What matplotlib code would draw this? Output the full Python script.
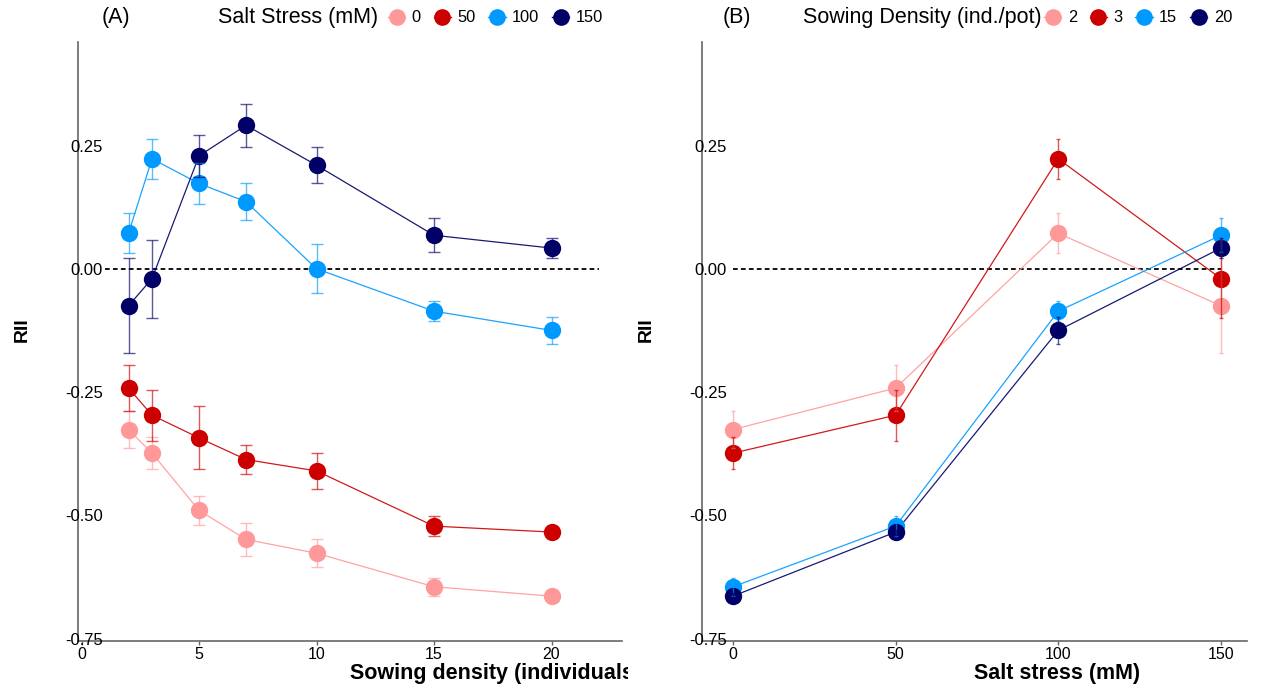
import matplotlib
matplotlib.use("Agg")
import matplotlib.pyplot as plt
from matplotlib.lines import Line2D
from matplotlib.transforms import Bbox, TransformedBbox

plt.rcParams["font.family"] = ["Liberation Sans", "DejaVu Sans"]

# sowing densities (ind./pot) and salt levels (mM)
density = [2, 3, 5, 7, 10, 15, 20]
salt = [0, 50, 100, 150]

# mean RII and SE for each salt level along the density gradient
rii_0 = [-0.326, -0.374, -0.490, -0.549, -0.577, -0.645, -0.664]
se_0 = [0.037, 0.032, 0.029, 0.033, 0.028, 0.018, 0.006]
rii_50 = [-0.242, -0.297, -0.343, -0.387, -0.410, -0.522, -0.534]
se_50 = [0.047, 0.052, 0.064, 0.030, 0.036, 0.020, 0.005]
rii_100 = [0.072, 0.223, 0.173, 0.136, 0.000, -0.086, -0.125]
se_100 = [0.041, 0.040, 0.041, 0.037, 0.050, 0.020, 0.028]
rii_150 = [-0.075, -0.020, 0.229, 0.291, 0.210, 0.068, 0.042]
se_150 = [0.096, 0.079, 0.042, 0.043, 0.037, 0.034, 0.020]

# densities shown in panel B
density_b = [2, 3, 15, 20]

colors = ["#FF9999", "#CC0000", "#0099FF", "#000066"]
y_ticks = [-0.75, -0.50, -0.25, 0.00, 0.25]

rii = [rii_0, rii_50, rii_100, rii_150]
se = [se_0, se_50, se_100, se_150]

W, H = 1261, 688
fig = plt.figure(figsize=(W / 100, H / 100), dpi=100)
ax_a = fig.add_axes([78 / W, 47 / H, 544 / W, 599 / H])
ax_b = fig.add_axes([702 / W, 47 / H, 545 / W, 599 / H])


def draw_series(ax, x, y, err, c, capsize):
    ax.plot(x, y, color=c, lw=0.9, alpha=0.9, zorder=2)
    ax.plot(x, y, "o", color=c, ms=12.5, mec="none", zorder=3)
    ax.errorbar(x, y, yerr=err, fmt="none", ecolor=c, elinewidth=1.0,
                capsize=capsize, capthick=1.0, alpha=0.65, zorder=4)


# panel A: RII against sowing density, one line per salt level
for i, c in enumerate(colors):
    draw_series(ax_a, density, rii[i], se[i], c, 4.3)

# panel B: same data, RII against salt for selected densities
for j, d in enumerate(density_b):
    k = density.index(d)
    y = [rii[i][k] for i in range(len(salt))]
    e = [se[i][k] for i in range(len(salt))]
    draw_series(ax_b, salt, y, e, colors[j], 1.5)

ax_a.hlines(0, 1, 22, colors="black", lw=1.3, linestyles=(0, (2.6, 1.8)), zorder=1)
ax_b.hlines(0, 0, 150, colors="black", lw=1.3, linestyles=(0, (2.6, 1.8)), zorder=1)

ax_a.set_xlim(-0.15, 23.0)
ax_a.set_xticks([0, 5, 10, 15, 20])
ax_b.set_xlim(-9.5, 158)
ax_b.set_xticks([0, 50, 100, 150])

for ax in (ax_a, ax_b):
    ax.set_ylim(-0.755, 0.46)
    ax.set_yticks(y_ticks)
    ax.set_yticklabels([f"{t:.2f}" for t in y_ticks])
    for s in ("top", "right"):
        ax.spines[s].set_visible(False)
    for s in ("left", "bottom"):
        ax.spines[s].set_color("#666666")
        ax.spines[s].set_linewidth(1.2)
        ax.spines[s].set_zorder(0)
    ax.tick_params(axis="y", length=0, pad=-18, labelsize=12)
    ax.tick_params(axis="x", length=3, width=1, color="#666666", pad=1, labelsize=11.5)
    ax.text(-0.102, 0.52, "RII", rotation=90, fontsize=14, fontweight="bold",
            ha="center", va="center", transform=ax.transAxes)

# x labels start at the centre of each panel; panel A's runs past its half
xl_a = fig.text(0.5, -0.055, "Sowing density (individuals/pot)", transform=ax_a.transAxes,
                fontsize=15.5, fontweight="bold", ha="left", va="center")
xl_a.set_clip_box(TransformedBbox(Bbox([[0, 0], [0.498, 1]]), fig.transFigure))
xl_a.set_clip_on(True)
fig.text(0.5, -0.055, "Salt stress (mM)", transform=ax_b.transAxes,
         fontsize=15.5, fontweight="bold", ha="left", va="center")

# panel tags and legends on top
ty = 1 - 18 / H
fig.text(102 / W, ty, "(A)", fontsize=15.5, va="center")
fig.text(218 / W, ty, "Salt Stress (mM)", fontsize=15.5, va="center")
fig.text(723 / W, ty, "(B)", fontsize=15.5, va="center")
fig.text(803 / W, ty, "Sowing Density (ind./pot)", fontsize=15.5, va="center")


def legend_handles():
    return [Line2D([], [], color=c, lw=1, marker="o", ms=12, mec="none") for c in colors]


for ax, labels, x0 in ((ax_a, salt, 388), (ax_b, density_b, 1044)):
    ax.legend(legend_handles(), [str(v) for v in labels], ncol=4, frameon=False,
              loc="center left", bbox_to_anchor=(x0 / W, ty), bbox_transform=fig.transFigure,
              borderpad=0, borderaxespad=0, handlelength=1.05, handletextpad=0.4,
              columnspacing=0.78, fontsize=11.8)

fig.savefig("out.png", dpi=100)
